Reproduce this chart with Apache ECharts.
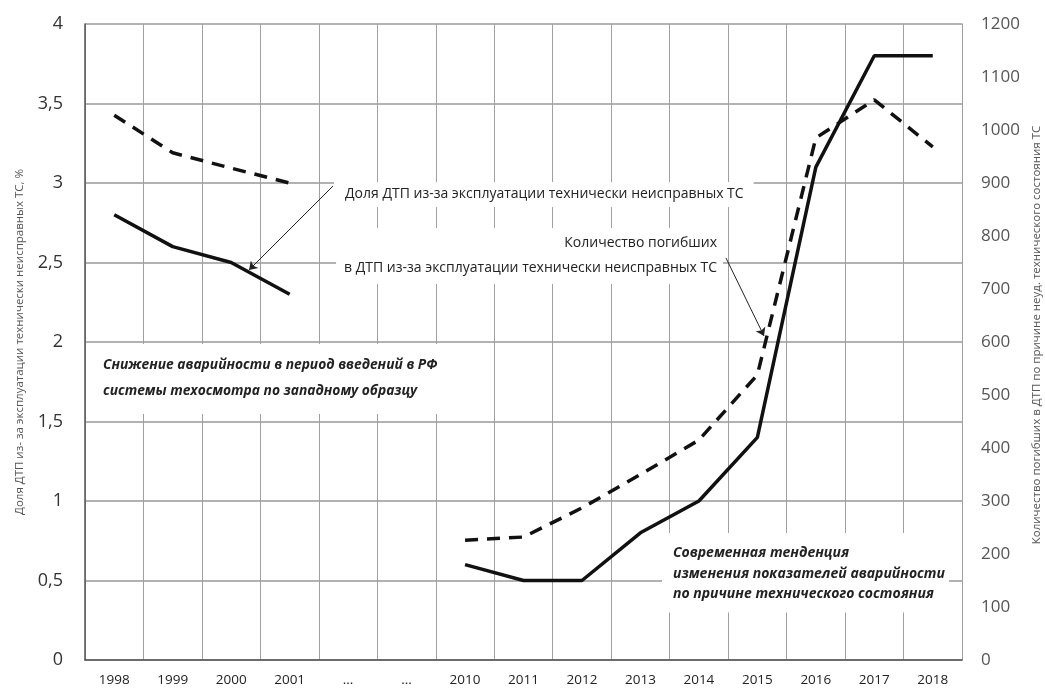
<!DOCTYPE html>
<html>
<head>
<meta charset="utf-8">
<script src="https://cdn.jsdelivr.net/npm/echarts@6/dist/echarts.min.js"></script>
<style>
  html, body { margin: 0; padding: 0; background: #fff; }
  #chart { width: 1045px; height: 689px; }
</style>
</head>
<body>
<div id="chart"></div>
<script>
// Годы (две «…» — пропуск периода 2002–2009)
const years = ["1998", "1999", "2000", "2001", "...", "...", "2010", "2011", "2012", "2013", "2014", "2015", "2016", "2017", "2018"];

// Доля ДТП из-за неисправных ТС, % (левая ось)
const sharePct = [2.8, 2.6, 2.5, 2.3, null, null, 0.6, 0.5, 0.5, 0.8, 1.0, 1.4, 3.1, 3.8, 3.8];

// Количество погибших, чел. (правая ось)
const deaths = [1028, 957, 928, 900, null, null, 226, 232, 287, 350, 415, 538, 985, 1057, 968];

const leftTicks = { min: 0, max: 4, interval: 0.5 };
const rightTicks = { min: 0, max: 1200, interval: 100 };

const FONT = '"Open Sans", "Noto Sans", sans-serif';
const INK = "#111";

// белая подложка под подписями, как в исходнике
const annoBox = {
  backgroundColor: "#fff",
  fontFamily: FONT,
  fill: "#222",
  verticalAlign: "top",
};

const chart = echarts.init(document.getElementById("chart"), null, { renderer: "canvas" });
chart.setOption({
  animation: false,
  textStyle: { fontFamily: FONT },
  grid: { left: 85, right: 83, top: 24, bottom: 29, containLabel: false },
  xAxis: {
    type: "category",
    data: years,
    boundaryGap: true,
    axisLine: { lineStyle: { color: "#555", width: 1.5 } },
    axisTick: { show: false },
    axisLabel: { color: "#222", fontSize: 13.5, margin: 13, interval: 0 },
    splitLine: { show: true, interval: 0, lineStyle: { color: "#a0a0a0", width: 1 } },
  },
  yAxis: [
    {
      type: "value",
      ...leftTicks,
      axisLine: { show: true, lineStyle: { color: "#555", width: 1.5 } },
      axisTick: { show: false },
      axisLabel: {
        color: "#333", fontSize: 18, margin: 22,
        formatter: (v) => String(v).replace(".", ","),
      },
      splitLine: { show: true, lineStyle: { color: "#999", width: 1.5 } },
    },
    {
      type: "value",
      ...rightTicks,
      position: "right",
      axisLine: { show: true, lineStyle: { color: "#a0a0a0", width: 1 } },
      axisTick: { show: false },
      axisLabel: { color: "#555", fontSize: 17, margin: 19, formatter: (v) => String(v) },
      splitLine: { show: false },
    },
  ],
  series: [
    {
      name: "Доля ДТП",
      type: "line",
      yAxisIndex: 0,
      data: sharePct,
      symbol: "none",
      connectNulls: false,
      lineStyle: { color: INK, width: 3.5 },
      z: 5,
      markLine: {
        silent: true,
        symbol: ["none", "arrow"],
        symbolSize: 8,
        label: { show: false },
        lineStyle: { color: "#222", width: 1, type: "solid" },
        data: [
          [{ x: 333, y: 186 }, { x: 249, y: 270 }],
          [{ x: 726, y: 258 }, { x: 764, y: 336 }],
        ],
      },
    },
    {
      name: "Количество погибших",
      type: "line",
      yAxisIndex: 1,
      data: deaths,
      symbol: "none",
      connectNulls: false,
      lineStyle: { color: INK, width: 3.5, type: [13, 9] },
      z: 5,
    },
  ],
  graphic: [
    {
      type: "text", x: 20, y: 342, rotation: Math.PI / 2,
      style: {
        text: "Доля ДТП из- за эксплуатации технически неисправных ТС, %",
        fontSize: 11.5, fill: "#555", fontFamily: FONT, align: "center", verticalAlign: "middle",
      },
    },
    {
      type: "text", x: 1037, y: 335, rotation: Math.PI / 2,
      style: {
        text: "Количество погибших в ДТП по причине неуд. технического состояния ТС",
        fontSize: 11.5, fill: "#555", fontFamily: FONT, align: "center", verticalAlign: "middle",
      },
      z: 10,
    },
    {
      type: "text", x: 334, y: 182, z: 10,
      style: {
        ...annoBox, text: "Доля ДТП из-за эксплуатации технически неисправных ТС",
        fontSize: 14, lineHeight: 19, align: "left", padding: [3, 10, 3, 11],
      },
    },
    {
      type: "text", x: 723, y: 228, z: 10,
      style: {
        ...annoBox,
        text: "Количество погибших\nв ДТП из-за эксплуатации технически неисправных ТС",
        fontSize: 14, lineHeight: 25, align: "right", padding: [3, 6, 3, 8],
      },
    },
    {
      type: "text", x: 87, y: 344, z: 10,
      style: {
        ...annoBox,
        text: "Снижение аварийности в период введений в РФ\nсистемы техосмотра по западному образцу",
        fontSize: 13.8, fontWeight: "bold", fontStyle: "italic", lineHeight: 26,
        align: "left", padding: [8, 8, 10, 16],
      },
    },
    {
      type: "text", x: 662, y: 533, z: 10,
      style: {
        ...annoBox,
        text: "Современная тенденция\nизменения показателей аварийности\nпо причине технического состояния",
        fontSize: 14, fontWeight: "bold", fontStyle: "italic", lineHeight: 20.5,
        align: "left", padding: [10, 4, 8, 11],
      },
    },
  ],
});
</script>
</body>
</html>
